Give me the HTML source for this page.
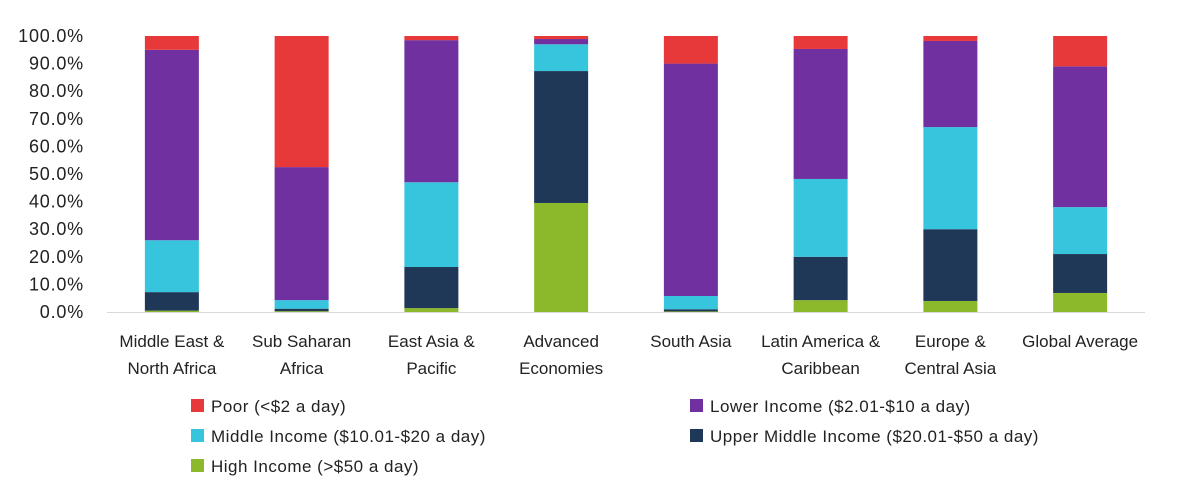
<!DOCTYPE html>
<html><head><meta charset="utf-8"><style>
body{margin:0;background:#fff;}
svg text{font-family:"Liberation Sans",sans-serif;fill:#222;}
</style></head><body>
<svg id="chart" width="1177" height="478"></svg>
<script>
const categories=[["Middle East &","North Africa"],["Sub Saharan","Africa"],["East Asia &","Pacific"],["Advanced","Economies"],["South Asia"],["Latin America &","Caribbean"],["Europe &","Central Asia"],["Global Average"]];
const highIncome=[0.5,0.3,1.4,39.5,0.2,4.3,4.0,6.9];
const upperMiddle=[6.7,0.9,14.9,47.8,0.8,15.7,26.0,14.1];
const middleIncome=[18.8,3.1,30.7,9.7,4.8,28.2,37.0,17.0];
const lowerIncome=[69.0,48.2,51.5,1.9,84.2,47.1,31.2,51.0];
const poor=[5.0,47.5,1.5,1.1,10.0,4.7,1.8,11.0];
const yTicks=["0.0%","10.0%","20.0%","30.0%","40.0%","50.0%","60.0%","70.0%","80.0%","90.0%","100.0%"];
const seriesNames=["Poor (<$2 a day)","Lower Income ($2.01-$10 a day)","Middle Income ($10.01-$20 a day)","Upper Middle Income ($20.01-$50 a day)","High Income (>$50 a day)"];

const NS="http://www.w3.org/2000/svg";
const svg=document.getElementById("chart");
const x0=107,x1=1145,yBot=312,yTop=36;
const y=v=>yBot-(v/100)*(yBot-yTop);
const band=(x1-x0)/categories.length;
const xc=i=>x0+band*(i+0.5);
function mk(t,a){const e=document.createElementNS(NS,t);for(const k in a)e.setAttribute(k,a[k]);svg.appendChild(e);return e;}
yTicks.forEach((t,i)=>{
  const e=mk("text",{x:84,y:y(i*10)+6,"text-anchor":"end","font-size":18,"letter-spacing":"0.8"});
  e.textContent=t;
  
  
});
const series=[
 {d:highIncome,c:"#8cb82b",n:"high-income"},
 {d:upperMiddle,c:"#1f3858",n:"upper-middle-income"},
 {d:middleIncome,c:"#37c5dd",n:"middle-income"},
 {d:lowerIncome,c:"#7030a0",n:"lower-income"},
 {d:poor,c:"#e8393a",n:"poor"}];
categories.forEach((cat,i)=>{
  let acc=0;
  series.forEach(s=>{
    const v=s.d[i];
    const r=mk("rect",{x:xc(i)-27,y:y(acc+v),width:54,height:y(acc)-y(acc+v),fill:s.c});
    
    
    acc+=v;
  });
  cat.forEach((line,j)=>{
    const t=mk("text",{x:xc(i),y:347+j*27,"text-anchor":"middle","font-size":17});
    t.textContent=line;
    
    
  });
});
const ax=mk("line",{x1:x0,x2:x1,y1:yBot+0.5,y2:yBot+0.5,stroke:"#d9d9d9"});


const legendPos=[[191,406,"#e8393a"],[690,406,"#7030a0"],[191,436,"#37c5dd"],[690,436,"#1f3858"],[191,466,"#8cb82b"]];
seriesNames.forEach((n,i)=>{
  const [lx,ly,c]=legendPos[i];
  const r=mk("rect",{x:lx,y:ly-7,width:13,height:13,fill:c});
  
  
  const t=mk("text",{x:lx+20,y:ly+6,"font-size":17,"letter-spacing":"0.5"});
  t.textContent=n;
  
  
});
</script>
</body></html>
